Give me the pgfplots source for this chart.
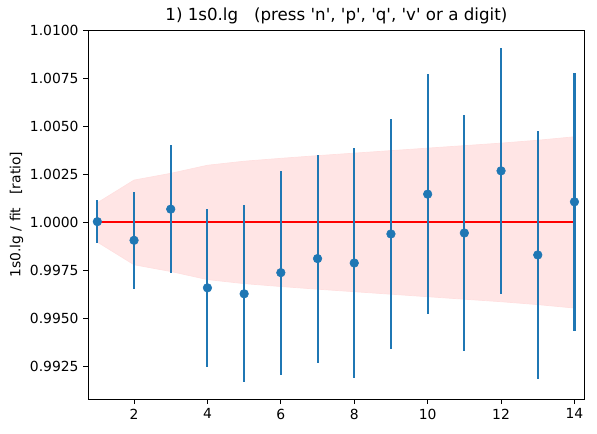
\documentclass[border=0pt]{standalone}
\usepackage{pgfplots}
\pgfplotsset{compat=1.18}
\usepackage{pgfplotstable}
\usepgfplotslibrary{fillbetween}
\usepackage{fontspec}
\setmainfont{DejaVu Sans}
\definecolor{tabblue}{HTML}{1F77B4}

% x, ratio, error
\pgfplotstableread{
x   y        err
1   1.00004  0.00110
2   0.99907  0.00253
3   1.00069  0.00333
4   0.99660  0.00410
5   0.99629  0.00460
6   0.99739  0.00530
7   0.99812  0.00540
8   0.99789  0.00600
9   0.99940  0.00600
10  1.00147  0.00625
11  0.99945  0.00615
12  1.00268  0.00640
13  0.99831  0.00645
14  1.00107  0.00672
}\ratiodata

% fit uncertainty band
\pgfplotstableread{
x   lo       hi
1   0.99898  1.00102
2   0.99780  1.00220
3   0.99745  1.00255
4   0.99703  1.00297
5   0.99682  1.00318
6   0.99667  1.00333
7   0.99653  1.00347
8   0.99640  1.00360
9   0.99627  1.00373
10  0.99614  1.00386
11  0.99601  1.00399
12  0.99588  1.00412
13  0.99573  1.00427
14  0.99555  1.00445
}\banddata

\newcommand{\q}{\textquotesingle}

\begin{document}
\begin{tikzpicture}
\begin{axis}[
  scale only axis,
  width=357.1pt, height=265.7pt,
  xmin=0.755, xmax=14.27,
  ymin=0.99082, ymax=1.0100,
  xtick={2,4,...,14},
  ytick={0.9925,0.9950,0.9975,1.0000,1.0025,1.0050,1.0075,1.0100},
  scaled y ticks=false,
  y tick label style={/pgf/number format/.cd, fixed, fixed zerofill, precision=4},
  /pgf/number format/assume math mode=true,
  tick label style={font=\fontsize{10}{12}\selectfont},
  xtick pos=bottom, ytick pos=left,
  tick align=outside,
  major tick length=3.5pt,
  every tick/.style={black, line width=0.6pt},
  axis line style={line width=0.6pt},
  title={1) 1s0.lg \ \ (press \q n\q, \q p\q, \q q\q, \q v\q\ or a digit)},
  title style={font=\fontsize{12}{14}\selectfont, yshift=-5.5pt},
  ylabel={1s0.lg / fit \ \ [ratio]},
  ylabel style={font=\fontsize{10}{12}\selectfont, yshift=-2pt},
  clip=true,
]
\addplot[name path=hi, draw=red!12, line width=0.5pt] table[x=x, y=hi] {\banddata};
\addplot[name path=lo, draw=red!12, line width=0.5pt] table[x=x, y=lo] {\banddata};
\addplot[fill=red!10, draw=none] fill between[of=hi and lo];
\addplot[red, line width=1.5pt] coordinates {(1,1) (14,1)};
\addplot[
  only marks, mark=*, mark size=3.1pt,
  mark options={fill=tabblue, draw=tabblue},
  color=tabblue,
  error bars/.cd, y dir=both, y explicit,
  error mark=none,
  error bar style={line width=1.5pt, tabblue},
] table[x=x, y=y, y error=err] {\ratiodata};
\end{axis}
\pgfresetboundingbox
\useasboundingbox ([xshift=-63.6pt, yshift=-24.5pt]current axis.south west)
  rectangle ([xshift=9.1pt, yshift=21.6pt]current axis.north east);
\end{tikzpicture}
\end{document}
